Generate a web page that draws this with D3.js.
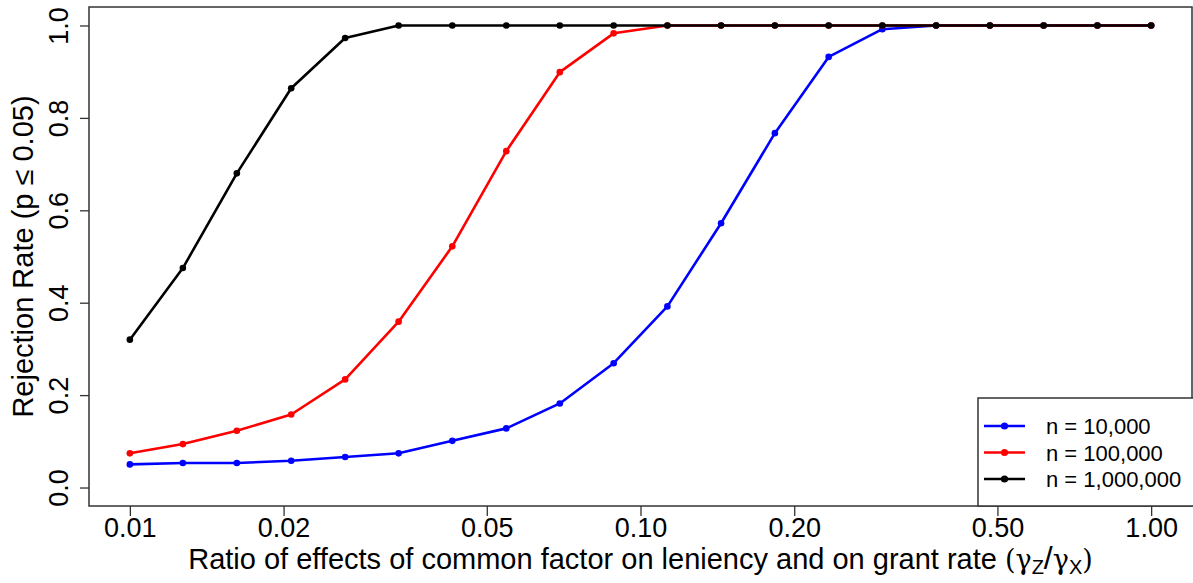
<!DOCTYPE html>
<html>
<head>
<meta charset="utf-8">
<script src="https://cdn.jsdelivr.net/npm/d3@7"></script>
<style>
  html, body { margin: 0; padding: 0; background: #fff; }
  svg { display: block; }
  svg text { font-family: "Liberation Sans", Arial, sans-serif; }
</style>
</head>
<body>
<svg id="chart" width="1193" height="583"></svg>
<script>
// Effect ratio (gamma_Z / gamma_X) at which each simulation was run
const ratios = [0.0100, 0.0127, 0.0162, 0.0207, 0.0264, 0.0336, 0.0428, 0.0546, 0.0695, 0.0886,
                0.1129, 0.1438, 0.1833, 0.2336, 0.2976, 0.3793, 0.4833, 0.6158, 0.7848, 1.0000];

// Rejection rates for each sample size
const rate10k  = [0.050, 0.053, 0.053, 0.058, 0.066, 0.074, 0.101, 0.128, 0.182, 0.269,
                  0.392, 0.572, 0.767, 0.932, 0.992, 1.000, 1.000, 1.000, 1.000, 1.000];
const rate100k = [0.074, 0.094, 0.123, 0.158, 0.234, 0.359, 0.522, 0.728, 0.899, 0.983,
                  1.000, 1.000, 1.000, 1.000, 1.000, 1.000, 1.000, 1.000, 1.000, 1.000];
const rate1m   = [0.320, 0.475, 0.680, 0.864, 0.973, 1.000, 1.000, 1.000, 1.000, 1.000,
                  1.000, 1.000, 1.000, 1.000, 1.000, 1.000, 1.000, 1.000, 1.000, 1.000];

const seriesNames  = ["n = 10,000", "n = 100,000", "n = 1,000,000"];
const seriesColors = ["#0000ff", "#ff0000", "#000000"];

const xTickValues = [0.01, 0.02, 0.05, 0.10, 0.20, 0.50, 1.00];
const yTickValues = [0.0, 0.2, 0.4, 0.6, 0.8, 1.0];

const series = [rate10k, rate100k, rate1m].map((vals, k) => ({
  name: seriesNames[k],
  color: seriesColors[k],
  points: ratios.map((r, i) => ({ x: r, y: vals[i] }))
}));

const svg = d3.select("#chart");
const plot = { left: 89, right: 1192, top: 7, bottom: 506 };
const fontFamily = "'Liberation Sans', Arial, sans-serif";

// Log x range padded by 4% on each side, like base R graphics
const lx0 = Math.log10(d3.min(ratios)), lx1 = Math.log10(d3.max(ratios));
const lpad = (lx1 - lx0) * 0.04;
const x = d3.scaleLog()
  .domain([Math.pow(10, lx0 - lpad), Math.pow(10, lx1 + lpad)])
  .range([plot.left, plot.right]);

const y = d3.scaleLinear()
  .domain([-0.04, 1.04])
  .range([plot.bottom, plot.top]);

const axisColor = "#333";
const tickFont = 27;

// X axis
const xAxis = svg.append("g")
  .attr("transform", `translate(0,${plot.bottom})`)
  .call(d3.axisBottom(x).tickValues(xTickValues).tickFormat(d3.format(".2f")).tickSize(10).tickSizeOuter(0))
  .attr("font-family", fontFamily)
  .attr("font-size", tickFont);
xAxis.select(".domain").remove();
xAxis.selectAll(".tick line").attr("stroke", axisColor).attr("stroke-width", 1.3);
xAxis.selectAll(".tick text")
  .attr("fill", "#000")
  .attr("dy", null)
  .attr("y", 31);

// Y axis, labels written along the axis
const yAxis = svg.append("g")
  .attr("transform", `translate(${plot.left},0)`)
  .call(d3.axisLeft(y).tickValues(yTickValues).tickFormat(d3.format(".1f")).tickSize(9).tickSizeOuter(0))
  .attr("font-family", fontFamily)
  .attr("font-size", tickFont);
yAxis.select(".domain").remove();
yAxis.selectAll(".tick line").attr("stroke", axisColor).attr("stroke-width", 1.3);
yAxis.selectAll(".tick text")
  .attr("fill", "#000")
  .attr("x", null).attr("dy", null)
  .attr("text-anchor", "middle")
  .attr("transform", "translate(-21,0) rotate(-90)");

// Plot frame
svg.append("rect")
  .attr("x", plot.left).attr("y", plot.top)
  .attr("width", plot.right - plot.left).attr("height", plot.bottom - plot.top)
  .attr("fill", "none").attr("stroke", axisColor).attr("stroke-width", 1.5);

// Series lines and points
const line = d3.line().x(d => x(d.x)).y(d => y(d.y));
const g = svg.append("g");
series.forEach(s => {
  g.append("path")
    .attr("d", line(s.points))
    .attr("fill", "none")
    .attr("stroke", s.color)
    .attr("stroke-width", 2.6)
    .attr("stroke-linejoin", "round");
  g.selectAll(null).data(s.points).enter().append("circle")
    .attr("cx", d => x(d.x)).attr("cy", d => y(d.y))
    .attr("r", 3.3)
    .attr("fill", s.color);
});

// Axis titles
const xTitle = svg.append("text")
  .attr("x", (plot.left + plot.right) / 2)
  .attr("y", 569)
  .attr("text-anchor", "middle")
  .attr("font-size", 29)
  .attr("fill", "#000");
xTitle.append("tspan").text("Ratio of effects of common factor on leniency and on grant rate ");
xTitle.append("tspan").attr("font-family", "'DejaVu Serif', serif").attr("font-size", 27).text("(γ");
xTitle.append("tspan").attr("font-size", 20).attr("dy", 5).text("Z");
xTitle.append("tspan").attr("dy", -5).attr("font-size", 32).attr("font-weight", 200).text("/");
xTitle.append("tspan").attr("font-family", "'DejaVu Serif', serif").attr("font-size", 27).text("γ");
xTitle.append("tspan").attr("font-size", 20).attr("dy", 5).text("X");
xTitle.append("tspan").attr("dy", -5).attr("font-family", "'DejaVu Serif', serif").attr("font-size", 27).text(")");

svg.append("text")
  .attr("transform", `translate(33,${(plot.top + plot.bottom) / 2}) rotate(-90)`)
  .attr("text-anchor", "middle")
  .attr("font-size", 29)
  .attr("fill", "#000")
  .text("Rejection Rate (p ≤ 0.05)");

// Legend in the lower-right corner
const legend = svg.append("g");
legend.append("rect")
  .attr("x", 978).attr("y", 398)
  .attr("width", 220).attr("height", plot.bottom - 398)
  .attr("fill", "#fff").attr("stroke", axisColor).attr("stroke-width", 1.5);
const rowY = d3.scalePoint().domain(seriesNames).range([426, 479]);
series.forEach(s => {
  const yy = rowY(s.name);
  legend.append("line")
    .attr("x1", 984).attr("x2", 1025).attr("y1", yy).attr("y2", yy)
    .attr("stroke", s.color).attr("stroke-width", 2.6);
  legend.append("circle")
    .attr("cx", 1004.5).attr("cy", yy).attr("r", 3.6).attr("fill", s.color);
  legend.append("text")
    .attr("x", 1046).attr("y", yy + 8)
    .attr("font-size", 22).attr("fill", "#000")
    .text(s.name);
});
</script>
</body>
</html>
